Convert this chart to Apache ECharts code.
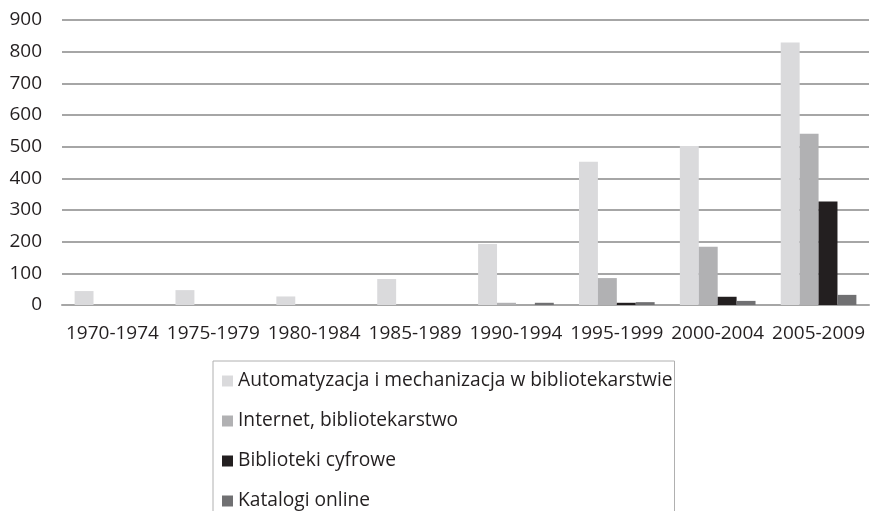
<!DOCTYPE html>
<html><head><meta charset="utf-8">
<script src="https://cdn.jsdelivr.net/npm/echarts@6/dist/echarts.min.js"></script>
<style>html,body{margin:0;padding:0;background:#fff}#c{width:870px;height:511px}</style>
</head><body><div id="c"></div>
<script>
const categories = ['1970-1974','1975-1979','1980-1984','1985-1989','1990-1994','1995-1999','2000-2004','2005-2009'];
const seriesNames = ['Automatyzacja i mechanizacja w bibliotekarstwie','Internet, bibliotekarstwo','Biblioteki cyfrowe','Katalogi online'];
const automatyzacja = [44, 47, 27, 82, 193, 452, 502, 829];
const internet = [0, 0, 0, 0, 7, 85, 184, 541];
const biblioteki = [0, 0, 0, 0, 0, 7, 26, 327];
const katalogi = [0, 0, 0, 0, 7, 9, 13, 32];
const colors = ['#dadadc', '#b1b1b3', '#231f20', '#707072'];
const yTicks = [0, 900, 100];

const font = 'Open Sans';
const chart = echarts.init(document.getElementById('c'));
const dataSets = [automatyzacja, internet, biblioteki, katalogi];
chart.setOption({
  animation: false,
  textStyle: {fontFamily: font},
  grid: {left: 62, right: 1, top: 20, bottom: 206},
  legend: {
    orient: 'vertical', left: 213, top: 361, height: 400,
    data: seriesNames,
    itemWidth: 11, itemHeight: 11, itemGap: 18,
    icon: 'rect',
    borderColor: '#b0b0b0', borderWidth: 1,
    padding: [9, 2, 30, 9],
    textStyle: {fontSize: 19.2, color: '#231f20', fontFamily: font, lineHeight: 22}
  },
  xAxis: {
    type: 'category', data: categories,
    axisLine: {lineStyle: {color: '#a6a6a6', width: 2}},
    axisTick: {show: false},
    axisLabel: {fontSize: 19, color: '#231f20', margin: 19, interval: 0, fontFamily: font}
  },
  yAxis: {
    type: 'value', min: yTicks[0], max: yTicks[1], interval: yTicks[2],
    axisLine: {show: false}, axisTick: {show: false},
    splitLine: {lineStyle: {color: '#a6a6a6', width: 2}},
    axisLabel: {fontSize: 19, color: '#231f20', margin: 20, fontFamily: font}
  },
  series: dataSets.map((d, i) => ({
    name: seriesNames[i], type: 'bar', data: d,
    itemStyle: {color: colors[i]},
    barGap: '0%', barCategoryGap: '25%'
  }))
});
</script></body></html>
